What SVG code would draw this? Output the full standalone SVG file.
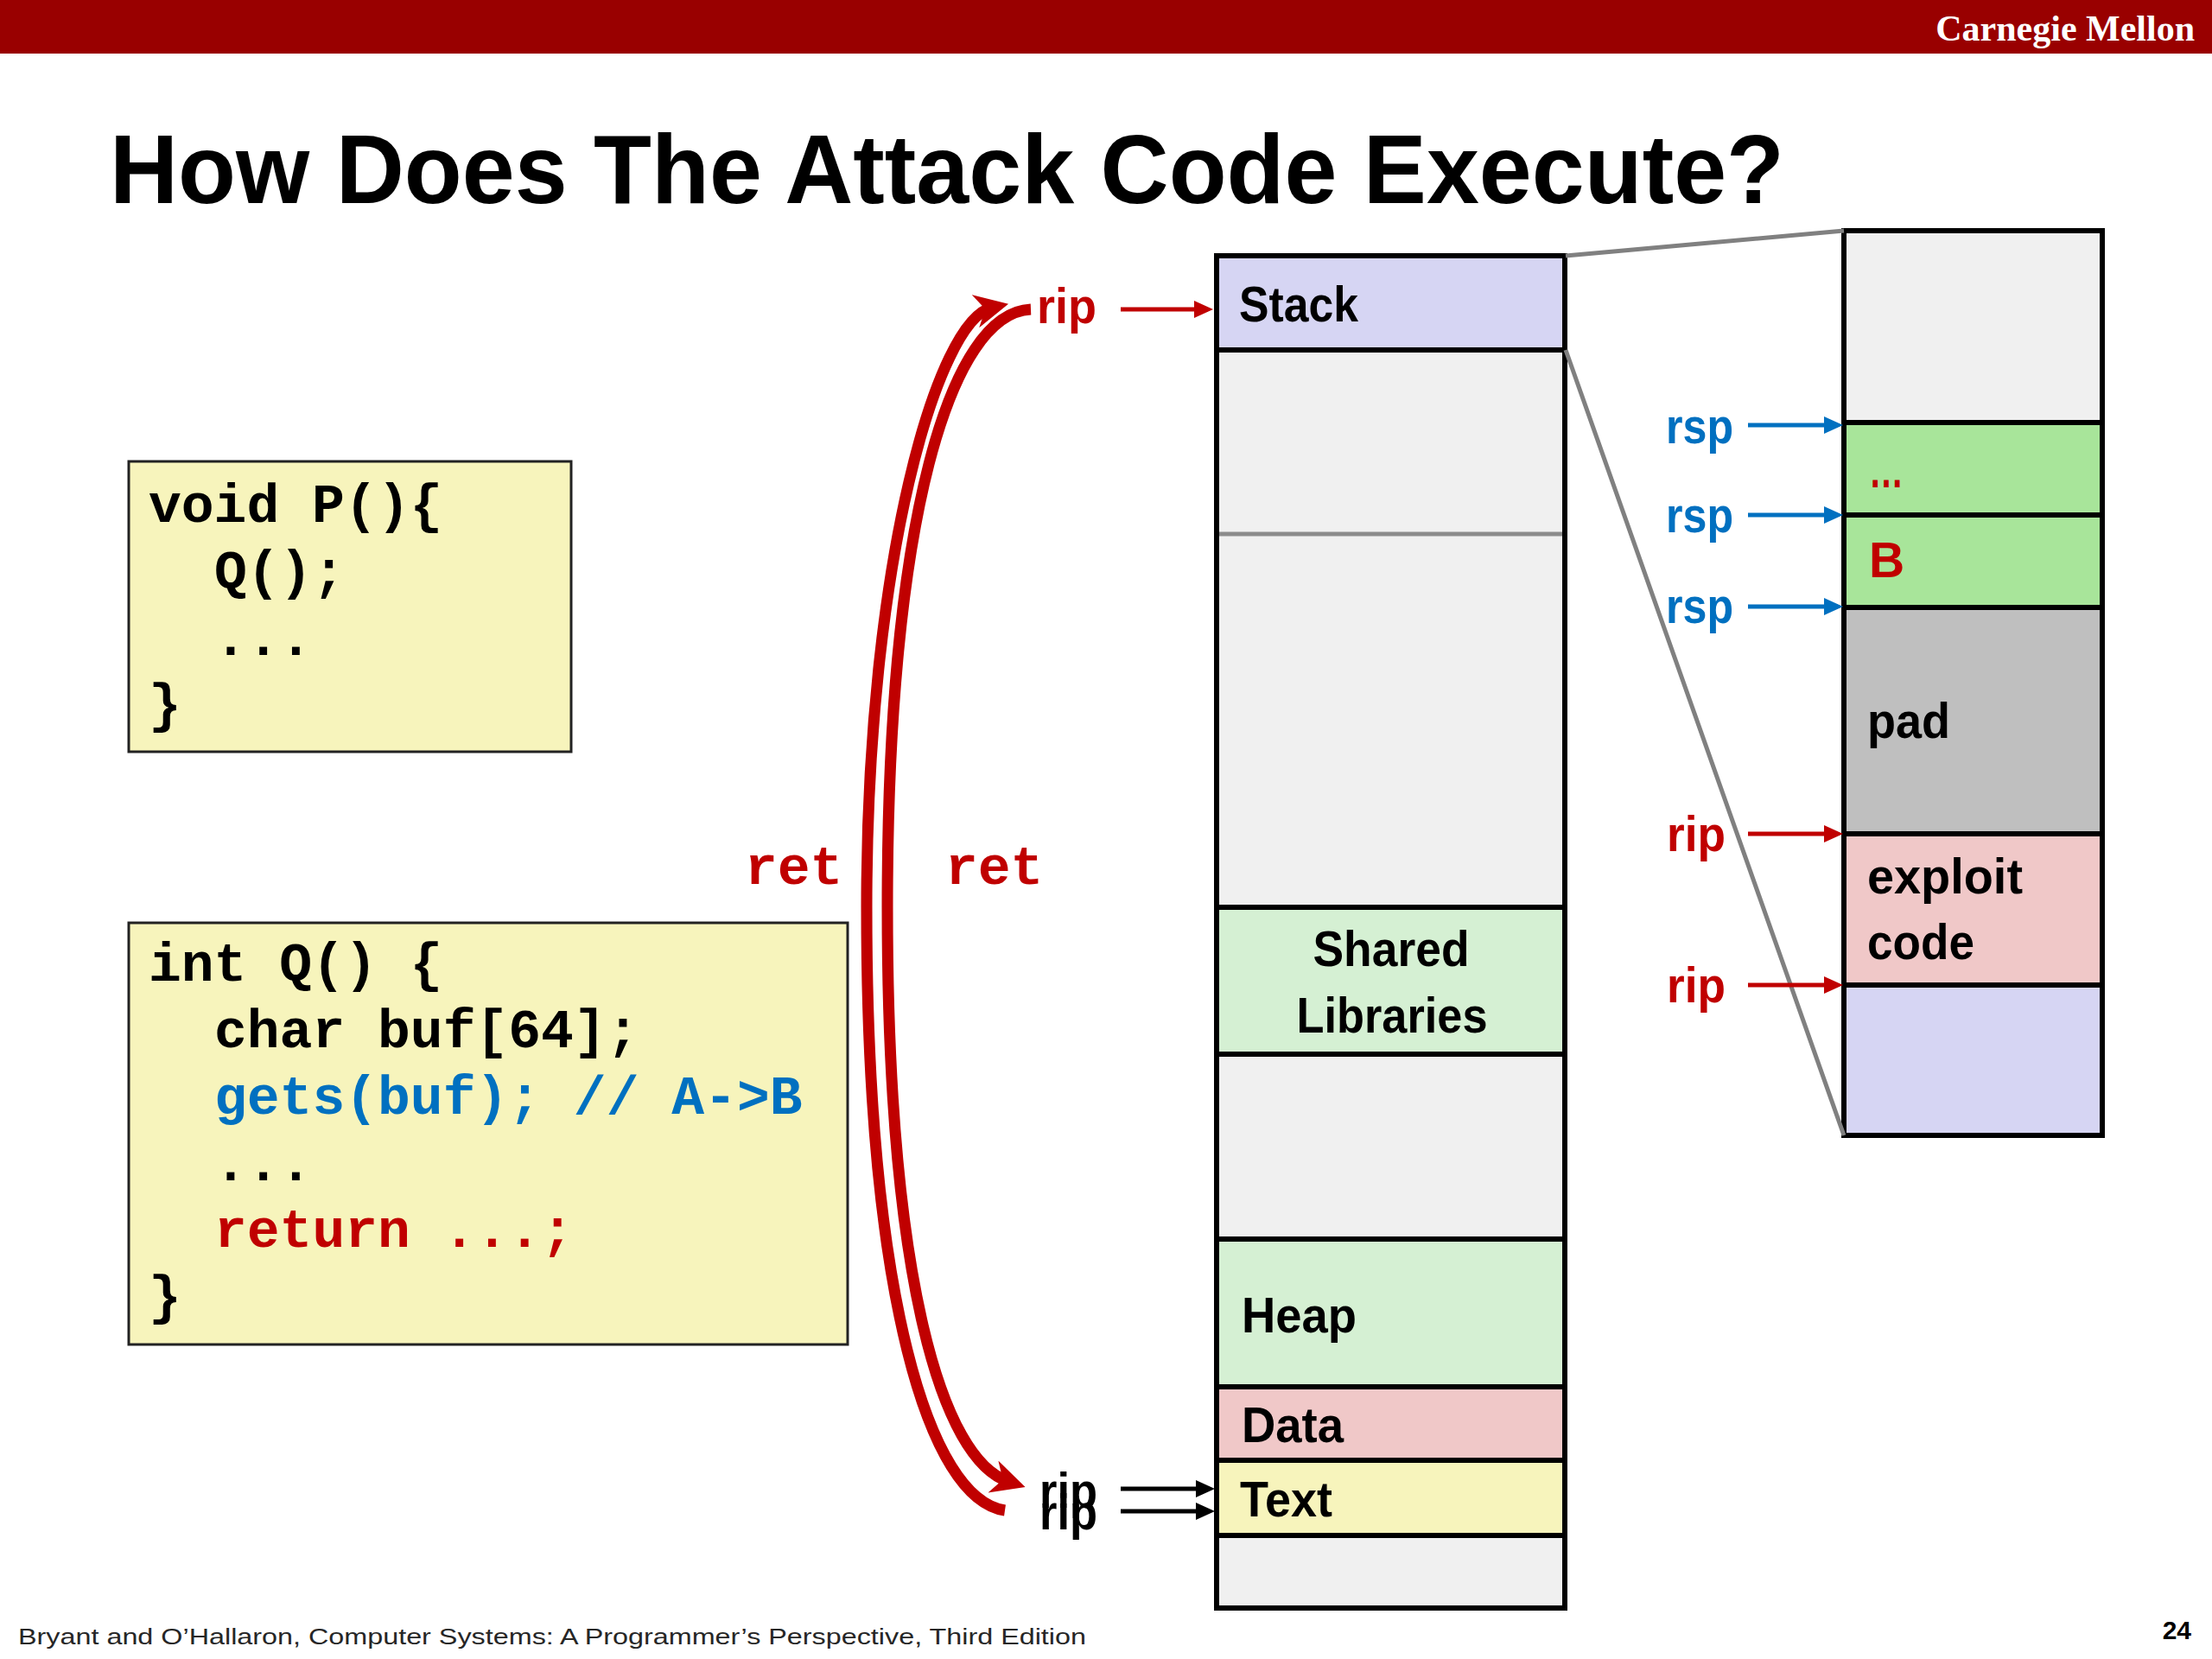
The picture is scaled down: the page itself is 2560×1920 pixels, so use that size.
<svg xmlns="http://www.w3.org/2000/svg" width="2560" height="1920" viewBox="0 0 2560 1920">
<style>
.code{font-family:"Liberation Mono","Courier New",monospace;font-weight:bold;font-size:63px;fill:#000}
.lbl{font-family:"Liberation Sans",Arial,sans-serif;font-weight:bold;font-size:57px;fill:#000}
.reg{font-family:"Liberation Sans",Arial,sans-serif;font-weight:bold;font-size:58px}
.seg{stroke:#000;stroke-width:6}
.cbox{fill:#F7F4BC;stroke:#222;stroke-width:3}
.red{fill:#C00000}
.blue{fill:#0070C0}
.lav{fill:#D6D5F3}
.gry{fill:#F0F0F0}
.lgr{fill:#D5F0D3}
.grn{fill:#A8E59A}
.pnk{fill:#F0C8C8}
.yel{fill:#F7F4BC}
.pad{fill:#BFBFBF}
.zoom{stroke:#808080;stroke-width:5;fill:none}
.curve{fill:none;stroke:#C00000;stroke-width:13}
</style>
<defs>
<marker id="hc" viewBox="0 0 3 3" refX="1.5" refY="1.5" markerWidth="3" markerHeight="3" markerUnits="strokeWidth" orient="auto"><path d="M0,0 L3,1.5 L0,3 L0.9,1.5 z" fill="#C00000"/></marker>
<marker id="hr" viewBox="0 0 11 10" refX="8" refY="5" markerWidth="4.4" markerHeight="4" markerUnits="strokeWidth" orient="auto"><path d="M0,0 L11,5 L0,10 z" fill="#C00000"/></marker>
<marker id="hb" viewBox="0 0 11 10" refX="8" refY="5" markerWidth="4.4" markerHeight="4" markerUnits="strokeWidth" orient="auto"><path d="M0,0 L11,5 L0,10 z" fill="#0070C0"/></marker>
<marker id="hk" viewBox="0 0 11 10" refX="8" refY="5" markerWidth="4.4" markerHeight="4" markerUnits="strokeWidth" orient="auto"><path d="M0,0 L11,5 L0,10 z" fill="#000"/></marker>
</defs>
<rect width="2560" height="1920" fill="#fff"/>
<g id="header">
<rect x="0" y="0" width="2560" height="62" fill="#990000"/>
<text x="2540" y="47" text-anchor="end" font-family="'Liberation Serif','Times New Roman',serif" font-weight="bold" font-size="42" fill="#fff">Carnegie Mellon</text>
</g>
<text id="title" x="127" y="235" font-family="'Liberation Sans',Arial,sans-serif" font-weight="bold" font-size="114" textLength="1938" lengthAdjust="spacingAndGlyphs" fill="#000">How Does The Attack Code Execute?</text>

<g id="codeP">
<rect class="cbox" x="149" y="534" width="512" height="336"/>
<text class="code" x="172" y="604">void P(){</text>
<text class="code" x="248" y="681">Q();</text>
<text class="code" x="248" y="758">...</text>
<text class="code" x="172" y="835">}</text>
</g>
<g id="codeQ">
<rect class="cbox" x="149" y="1068" width="832" height="488"/>
<text class="code" x="172" y="1135">int Q() {</text>
<text class="code" x="248" y="1212">char buf[64];</text>
<text class="code blue" x="248" y="1289">gets(buf); // A-&gt;B</text>
<text class="code" x="248" y="1366">...</text>
<text class="code red" x="248" y="1443">return ...;</text>
<text class="code" x="172" y="1520">}</text>
</g>

<g id="memory">
<rect class="seg lav" x="1408" y="296" width="403" height="109"/>
<rect class="seg gry" x="1408" y="405" width="403" height="645"/>
<line x1="1411" y1="618" x2="1808" y2="618" stroke="#8c8c8c" stroke-width="5"/>
<rect class="seg lgr" x="1408" y="1050" width="403" height="170"/>
<rect class="seg gry" x="1408" y="1220" width="403" height="214"/>
<rect class="seg lgr" x="1408" y="1434" width="403" height="171"/>
<rect class="seg pnk" x="1408" y="1605" width="403" height="85"/>
<rect class="seg yel" x="1408" y="1690" width="403" height="87"/>
<rect class="seg gry" x="1408" y="1777" width="403" height="84"/>
<text class="lbl" x="1434" y="372" textLength="138" lengthAdjust="spacingAndGlyphs">Stack</text>
<text class="lbl" x="1610" y="1118" text-anchor="middle" textLength="181" lengthAdjust="spacingAndGlyphs">Shared</text>
<text class="lbl" x="1611" y="1195" text-anchor="middle" textLength="221" lengthAdjust="spacingAndGlyphs">Libraries</text>
<text class="lbl" x="1437" y="1542" textLength="133" lengthAdjust="spacingAndGlyphs">Heap</text>
<text class="lbl" x="1437" y="1669" textLength="118" lengthAdjust="spacingAndGlyphs">Data</text>
<text class="lbl" x="1435" y="1755" textLength="107" lengthAdjust="spacingAndGlyphs">Text</text>
</g>

<g id="stackzoom">
<rect class="seg gry" x="2134" y="267" width="299" height="222"/>
<rect class="seg grn" x="2134" y="489" width="299" height="107"/>
<rect class="seg grn" x="2134" y="596" width="299" height="107"/>
<rect class="seg pad" x="2134" y="703" width="299" height="262"/>
<rect class="seg pnk" x="2134" y="965" width="299" height="175"/>
<rect class="seg lav" x="2134" y="1140" width="299" height="174"/>
<text class="lbl red" x="2163" y="564" textLength="40" lengthAdjust="spacingAndGlyphs">…</text>
<text class="lbl red" x="2163" y="668">B</text>
<text class="lbl" x="2161" y="854" textLength="96" lengthAdjust="spacingAndGlyphs">pad</text>
<text class="lbl" x="2161" y="1034" textLength="180" lengthAdjust="spacingAndGlyphs">exploit</text>
<text class="lbl" x="2161" y="1110" textLength="124" lengthAdjust="spacingAndGlyphs">code</text>
</g>

<g id="connectors">
<line class="zoom" x1="1812" y1="296" x2="2134" y2="267"/>
<line class="zoom" x1="1812" y1="405" x2="2134" y2="1314"/>
<path class="curve" d="M1163,1748 C1075,1735 1003,1500 1003,1050 C1003,650 1085,370 1148,356" marker-end="url(#hc)"/>
<path class="curve" d="M1193,358 C1100,362 1027,600 1027,1050 C1027,1480 1090,1690 1168,1715" marker-end="url(#hc)"/>
<text class="code red" x="862" y="1023">ret</text>
<text class="code red" x="1094" y="1023">ret</text>
<text class="reg red" x="1200" y="374" textLength="69" lengthAdjust="spacingAndGlyphs">rip</text>
<line x1="1297" y1="358" x2="1398" y2="358" stroke="#C00000" stroke-width="5" marker-end="url(#hr)"/>
<text class="reg" x="1203" y="1745" textLength="67" lengthAdjust="spacingAndGlyphs" fill="#000">rip</text>
<text class="reg" x="1203" y="1770" textLength="67" lengthAdjust="spacingAndGlyphs" fill="#000">rip</text>
<line x1="1297" y1="1723" x2="1400" y2="1723" stroke="#000" stroke-width="5" marker-end="url(#hk)"/>
<line x1="1297" y1="1749" x2="1400" y2="1749" stroke="#000" stroke-width="5" marker-end="url(#hk)"/>
<text class="reg blue" x="1928" y="513" textLength="78" lengthAdjust="spacingAndGlyphs">rsp</text>
<text class="reg blue" x="1928" y="616" textLength="78" lengthAdjust="spacingAndGlyphs">rsp</text>
<text class="reg blue" x="1928" y="721" textLength="78" lengthAdjust="spacingAndGlyphs">rsp</text>
<text class="reg red" x="1929" y="985" textLength="68" lengthAdjust="spacingAndGlyphs">rip</text>
<text class="reg red" x="1929" y="1160" textLength="68" lengthAdjust="spacingAndGlyphs">rip</text>
<line x1="2023" y1="492" x2="2127" y2="492" stroke="#0070C0" stroke-width="5" marker-end="url(#hb)"/>
<line x1="2023" y1="596" x2="2127" y2="596" stroke="#0070C0" stroke-width="5" marker-end="url(#hb)"/>
<line x1="2023" y1="702" x2="2127" y2="702" stroke="#0070C0" stroke-width="5" marker-end="url(#hb)"/>
<line x1="2023" y1="965" x2="2127" y2="965" stroke="#C00000" stroke-width="5" marker-end="url(#hr)"/>
<line x1="2023" y1="1140" x2="2127" y2="1140" stroke="#C00000" stroke-width="5" marker-end="url(#hr)"/>
</g>

<g id="footer">
<text x="21" y="1903" font-family="'Liberation Sans',Arial,sans-serif" font-size="25" textLength="1236" lengthAdjust="spacingAndGlyphs" fill="#262626">Bryant and O’Hallaron, Computer Systems: A Programmer’s Perspective, Third Edition</text>
<text x="2536" y="1897" text-anchor="end" font-family="'Liberation Sans',Arial,sans-serif" font-weight="bold" font-size="30" fill="#000">24</text>
</g>
</svg>
